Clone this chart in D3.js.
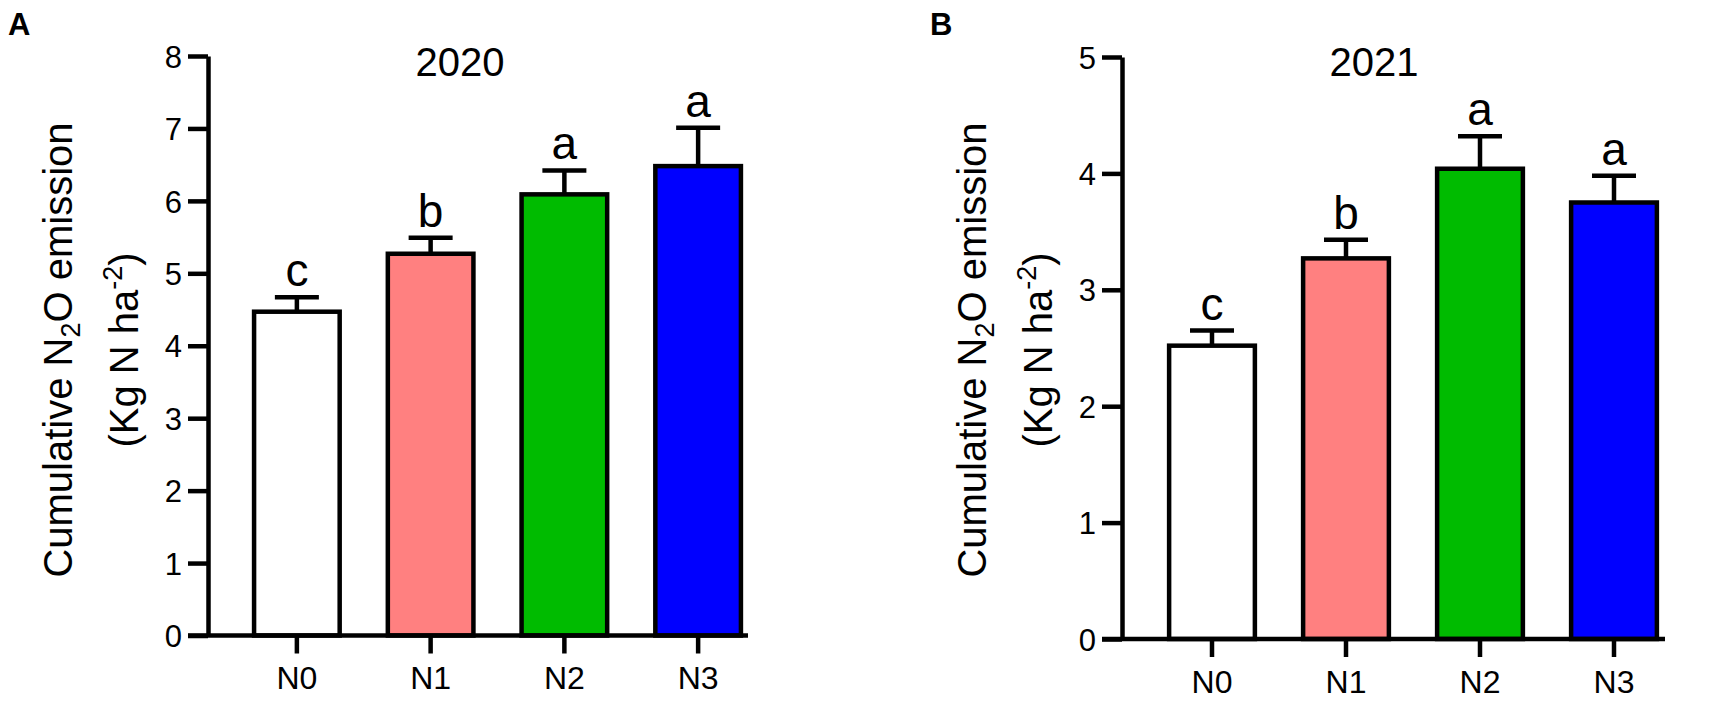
<!DOCTYPE html>
<html>
<head>
<meta charset="utf-8">
<script src="https://cdn.jsdelivr.net/npm/d3@7"></script>
<style>
  html, body { margin: 0; padding: 0; background: #fff; }
  text { font-family: Arial, "Liberation Sans", sans-serif; fill: #000; }
</style>
</head>
<body>
<svg id="chart" width="1713" height="702"></svg>
<script>
// ---- data ----
const categories = ["N0", "N1", "N2", "N3"];
const colors = ["#FFFFFF", "#FF8080", "#00BB00", "#0000FF"];

const means2020 = [4.47, 5.27, 6.09, 6.48];
const errors2020 = [0.20, 0.22, 0.33, 0.53];
const letters2020 = ["c", "b", "a", "a"];
const yTicks2020 = [0, 1, 2, 3, 4, 5, 6, 7, 8];

const means2021 = [2.52, 3.27, 4.04, 3.75];
const errors2021 = [0.13, 0.16, 0.28, 0.23];
const letters2021 = ["c", "b", "a", "a"];
const yTicks2021 = [0, 1, 2, 3, 4, 5];

const panels = [
  { tag: "A", title: "2020", means: means2020, errors: errors2020, letters: letters2020, ticks: yTicks2020,
    axisX: 208, xRange: [230, 765], xEnd: 748, y0: 635.5, yTop: 56, tagX: 8 },
  { tag: "B", title: "2021", means: means2021, errors: errors2021, letters: letters2021, ticks: yTicks2021,
    axisX: 1122, xRange: [1145, 1681], xEnd: 1665, y0: 639, yTop: 57, tagX: 930 }
];

const svg = d3.select("#chart");
const SW = 4.5;

panels.forEach(p => {
  const g = svg.append("g");
  const yMax = p.ticks[p.ticks.length - 1];
  const y = d3.scaleLinear().domain([0, yMax]).range([p.y0, p.yTop]);
  const x = d3.scaleBand().domain(categories).range(p.xRange).paddingInner(0.36).paddingOuter(0.18);

  // bars
  g.selectAll("rect.bar").data(p.means).join("rect")
    .attr("class", "bar")
    .attr("x", (d, i) => x(categories[i]))
    .attr("width", x.bandwidth())
    .attr("y", d => y(d))
    .attr("height", d => y(0) - y(d))
    .attr("fill", (d, i) => colors[i])
    .attr("stroke", "#000")
    .attr("stroke-width", SW);

  // error bars (upper only)
  const capW = 44;
  g.selectAll("line.err").data(p.means).join("line")
    .attr("class", "err")
    .attr("x1", (d, i) => x(categories[i]) + x.bandwidth() / 2)
    .attr("x2", (d, i) => x(categories[i]) + x.bandwidth() / 2)
    .attr("y1", d => y(d))
    .attr("y2", (d, i) => y(d + p.errors[i]))
    .attr("stroke", "#000").attr("stroke-width", SW);
  g.selectAll("line.cap").data(p.means).join("line")
    .attr("class", "cap")
    .attr("x1", (d, i) => x(categories[i]) + x.bandwidth() / 2 - capW / 2)
    .attr("x2", (d, i) => x(categories[i]) + x.bandwidth() / 2 + capW / 2)
    .attr("y1", (d, i) => y(d + p.errors[i]))
    .attr("y2", (d, i) => y(d + p.errors[i]))
    .attr("stroke", "#000").attr("stroke-width", SW);

  // significance letters
  g.selectAll("text.sig").data(p.letters).join("text")
    .attr("class", "sig")
    .attr("x", (d, i) => x(categories[i]) + x.bandwidth() / 2)
    .attr("y", (d, i) => y(p.means[i] + p.errors[i]) - 11)
    .attr("text-anchor", "middle")
    .attr("font-size", 46)
    .text(d => d);

  // y axis
  const yAxis = d3.axisLeft(y).tickValues(p.ticks).tickSize(20).tickSizeOuter(0).tickPadding(6)
    .tickFormat(d3.format("d"));
  const ya = g.append("g").attr("transform", `translate(${p.axisX},0)`).call(yAxis);
  ya.select(".domain").attr("stroke", "#000").attr("stroke-width", SW);
  ya.selectAll(".tick line").attr("stroke", "#000").attr("stroke-width", SW);
  ya.selectAll(".tick text").attr("font-size", 31).attr("font-family", 'Arial, "Liberation Sans", sans-serif')
    .attr("fill", "#000").attr("dy", "0.36em");

  // x axis
  const xAxis = d3.axisBottom(x).tickSize(18).tickSizeOuter(0).tickPadding(13);
  const xa = g.append("g").attr("transform", `translate(0,${y(0)})`).call(xAxis);
  xa.select(".domain").remove();
  xa.selectAll(".tick line").attr("stroke", "#000").attr("stroke-width", SW);
  xa.selectAll(".tick text").attr("font-size", 32).attr("font-family", 'Arial, "Liberation Sans", sans-serif')
    .attr("fill", "#000");
  g.append("line")
    .attr("x1", p.axisX - 20).attr("x2", p.xEnd)
    .attr("y1", y(0)).attr("y2", y(0))
    .attr("stroke", "#000").attr("stroke-width", SW);

  // title
  g.append("text").attr("x", p.axisX + 252).attr("y", 76)
    .attr("text-anchor", "middle").attr("font-size", 40).text(p.title);

  // panel tag
  g.append("text").attr("x", p.tagX).attr("y", 35)
    .attr("font-size", 31).attr("font-weight", "bold").text(p.tag);

  // y label
  const cy = 350;
  const l1 = g.append("text")
    .attr("transform", `translate(${p.axisX - 136},${cy}) rotate(-90)`)
    .attr("text-anchor", "middle").attr("font-size", 40);
  l1.append("tspan").text("Cumulative N");
  l1.append("tspan").attr("font-size", 27).attr("dy", 8).text("2");
  l1.append("tspan").attr("dy", -8).text("O emission");

  const l2 = g.append("text")
    .attr("transform", `translate(${p.axisX - 70},${cy}) rotate(-90)`)
    .attr("text-anchor", "middle").attr("font-size", 40);
  l2.append("tspan").text("(Kg N ha");
  l2.append("tspan").attr("font-size", 27).attr("dy", -16).text("-2");
  l2.append("tspan").attr("dy", 16).text(")");
});
</script>
</body>
</html>
